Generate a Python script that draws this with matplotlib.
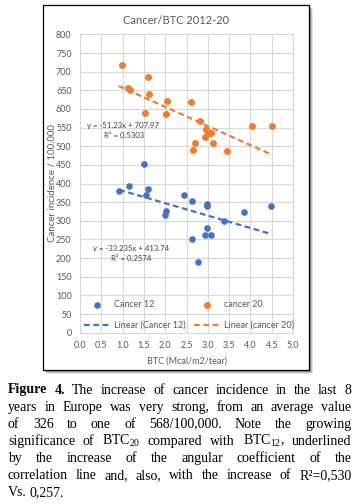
import matplotlib
matplotlib.use("Agg")
import matplotlib.pyplot as plt
from matplotlib.patches import Rectangle
import numpy as np

W, H = 359, 504

# data
x12 = [0.92, 1.14, 1.50, 1.55, 1.60, 2.00, 2.02, 2.45, 2.62, 2.64,
       2.78, 2.94, 2.98, 2.98, 2.99, 3.07, 3.37, 3.85, 4.49]
y12 = [380, 393, 452, 370, 386, 316, 327, 368, 252, 354,
       190, 263, 344, 340, 282, 261, 300, 323, 339]
x20 = [0.99, 1.13, 1.17, 1.53, 1.59, 1.63, 2.01, 2.05, 2.60, 2.66, 2.71,
       2.81, 2.93, 2.95, 2.97, 3.02, 3.07, 3.12, 3.45, 4.03, 4.51]
y20 = [718, 655, 651, 588, 687, 640, 587, 621, 619, 490, 510,
       568, 526, 546, 542, 536, 535, 510, 487, 555, 555]
fit12 = (-33.235, 413.74)
fit20 = (-51.23, 707.97)

blue = '#4472C4'
orange = '#ED7D31'
grey = '#595959'

plt.rcParams['mathtext.fontset'] = 'custom'
plt.rcParams['mathtext.rm'] = 'Liberation Serif'

fig = plt.figure(figsize=(W / 100, H / 100), dpi=100)

def fx(px):
    return px / W

def fy(py):
    return 1 - py / H

# chart box with shadow
for i, a in enumerate([0.10, 0.16, 0.25]):
    off = 4 - i
    fig.patches.append(Rectangle((fx(43 + off), fy(370 + off)), fx(266), 365 / H,
                                 transform=fig.transFigure, facecolor='black',
                                 edgecolor='none', alpha=a, zorder=0))
fig.patches.append(Rectangle((fx(43), fy(370)), fx(266), 365 / H,
                             transform=fig.transFigure, facecolor='white',
                             edgecolor='black', lw=0.9, zorder=1))

ax = fig.add_axes([fx(80), fy(332.7), fx(213), 298.3 / H])
ax.set_zorder(2)
ax.patch.set_alpha(0)

ax.scatter(x12, y12, s=14, color=blue, zorder=3, label='Cancer 12')
ax.scatter(x20, y20, s=16, color=orange, zorder=3, label='cancer 20')

xs12 = np.array([min(x12), max(x12)])
xs20 = np.array([min(x20) - 0.08, max(x20)])
ax.plot(xs12, fit12[0] * xs12 + fit12[1], color=blue, lw=1.6,
        ls=(0, (2.6, 1.6)), zorder=2, label='Linear (Cancer 12)')
ax.plot(xs20, fit20[0] * xs20 + fit20[1], color=orange, lw=1.6,
        ls=(0, (2.6, 1.6)), zorder=2, label='Linear (cancer 20)')

ax.set_xlim(0, 5)
ax.set_ylim(0, 800)
ax.set_xticks(np.arange(0, 5.01, 0.5))
ax.set_yticks(np.arange(0, 801, 50))
ax.set_xticklabels(['%.1f' % v for v in np.arange(0, 5.01, 0.5)])
ax.grid(True, color='#D9D9D9', lw=0.8)
ax.set_axisbelow(True)
for s in ax.spines.values():
    s.set_color('#D9D9D9')
    s.set_linewidth(0.8)
ax.tick_params(length=0, labelsize=6.5, labelcolor=grey, pad=6,
               labelfontfamily='Lato')

ax.text(1.0, 555, 'y = -51.23x + 707.97', fontsize=5.6, color='#404040',
        family='Lato', ha='center', va='center')
ax.text(1.03, 530, 'R² = 0.5303', fontsize=5.6, color='#404040',
        family='Lato', ha='center', va='center')
ax.text(1.19, 225, 'y = -33.235x + 413.74', fontsize=5.6, color='#404040',
        family='Lato', ha='center', va='center')
ax.text(1.21, 198, 'R² = 0.2574', fontsize=5.6, color='#404040',
        family='Lato', ha='center', va='center')

h, l = ax.get_legend_handles_labels()
order = [0, 2, 1, 3]
leg = fig.legend([h[i] for i in order], [l[i] for i in order], ncol=2,
                 loc='lower left', bbox_to_anchor=(fx(84), fy(330)),
                 frameon=False, fontsize=6.5, handlelength=2.8,
                 handletextpad=0.5, columnspacing=1.0, labelspacing=1.3,
                 borderpad=0, borderaxespad=0, prop={'family': 'Lato', 'size': 6.5})
for t in leg.get_texts():
    t.set_color(grey)
leg.set_zorder(5)

fig.text(fx(176), fy(20), 'Cancer/BTC 2012-20', fontsize=8, color=grey,
         family='Lato', ha='center', va='center', zorder=3)
fig.text(fx(52), fy(183), 'Cancer incidence / 100,000', fontsize=7, color=grey,
         family='Lato', ha='center', va='center', rotation=90, zorder=3)
fig.text(fx(187), fy(361), 'BTC (Mcal/m2/tear)', fontsize=6.5, color=grey,
         family='Lato', ha='center', va='center', zorder=3)

# caption, justified word by word
caption = [
    [('Figure', True), ('4.', True), ('The', False), ('increase', False), ('of', False),
     ('cancer', False), ('incidence', False), ('in', False), ('the', False),
     ('last', False), ('8', False)],
    'years in Europe was very strong, from an average value',
    'of 326 to one of 568/100,000. Note the growing',
    'significance of BTC$_{20}$ compared with BTC$_{12}$, underlined',
    'by the increase of the angular coefficient of the',
    'correlation line and, also, with the increase of R²=0,530',
    'Vs. 0,257.',
]
left, right = 8, 351.5
base0, step = 393.5, 17.05
renderer = fig.canvas.get_renderer()
for i, line in enumerate(caption):
    if isinstance(line, str):
        line = [(w, False) for w in line.split(' ')]
    y = base0 + i * step
    objs = []
    for w, b in line:
        objs.append(fig.text(0, fy(y), w, fontsize=10, family='Liberation Serif',
                             weight='bold' if b else 'normal', va='baseline',
                             ha='left', color='black'))
    widths = [t.get_window_extent(renderer).width for t in objs]
    if i == len(caption) - 1:
        gap = 2.5
    else:
        gap = (right - left - sum(widths)) / (len(objs) - 1)
    x = left
    for t, wd in zip(objs, widths):
        t.set_x(fx(x))
        x += wd + gap

fig.savefig('out.png', dpi=100)
